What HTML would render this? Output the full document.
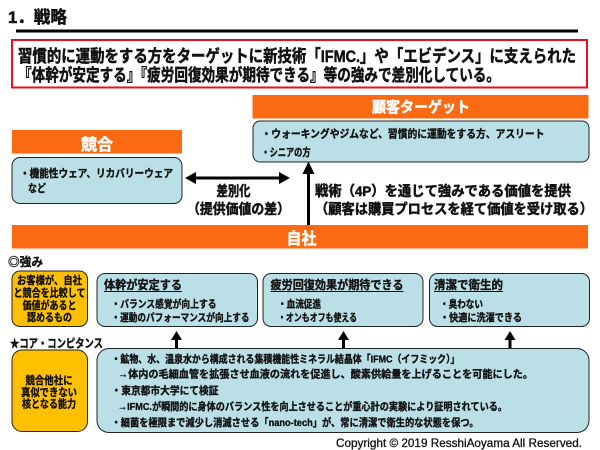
<!DOCTYPE html>
<html><head><meta charset="utf-8">
<style>
html,body{margin:0;padding:0;background:#fff;}
svg{display:block;}
text{font-family:"Liberation Sans","Noto Sans CJK JP",sans-serif;font-weight:bold;fill:#111;stroke:#111;stroke-width:0.35px;}
text.w{fill:#fff;stroke:#fff;stroke-width:0.5px;}
text.big{stroke-width:0.5px;}
text.n{font-weight:normal;stroke-width:0.3px;}
</style></head>
<body>
<svg width="600" height="450" viewBox="0 0 600 450" xmlns="http://www.w3.org/2000/svg">
<rect x="0" y="0" width="600" height="450" fill="#fff"/>

<!-- Title -->
<text class="big" x="8" y="23" font-size="17" textLength="59" lengthAdjust="spacingAndGlyphs">1．戦略</text>
<rect x="16" y="29.5" width="562" height="3" fill="#000"/>

<!-- Red summary box -->
<rect x="12" y="40" width="575" height="47.5" fill="#fff" stroke="#e3121b" stroke-width="2"/>
<text class="big" x="18" y="62" font-size="17" textLength="558" lengthAdjust="spacingAndGlyphs">習慣的に運動をする方をターゲットに新技術「IFMC.」や「エビデンス」に支えられた</text>
<text class="big" x="18" y="81" font-size="17" textLength="482" lengthAdjust="spacingAndGlyphs">『体幹が安定する』『疲労回復効果が期待できる』等の強みで差別化している。</text>

<!-- Customer target -->
<rect x="252.5" y="95" width="336" height="23.5" fill="#f96a12"/>
<text class="w" x="421" y="112" font-size="15" text-anchor="middle" textLength="98" lengthAdjust="spacingAndGlyphs">顧客ターゲット</text>
<rect x="253" y="121" width="336" height="41" rx="7" fill="#bbdfe6" stroke="#222" stroke-width="1"/>
<text x="261.5" y="137.5" font-size="11" textLength="283" lengthAdjust="spacingAndGlyphs">・ウォーキングやジムなど、習慣的に運動をする方、アスリート</text>
<text x="261.5" y="156" font-size="11" textLength="49" lengthAdjust="spacingAndGlyphs">・シニアの方</text>

<!-- Competitor -->
<rect x="12" y="130" width="170" height="23.5" fill="#f96a12"/>
<text class="w" x="97" y="150" font-size="16" text-anchor="middle" textLength="32" lengthAdjust="spacingAndGlyphs">競合</text>
<rect x="12" y="157.5" width="170" height="46" rx="8" fill="#bbdfe6" stroke="#222" stroke-width="1"/>
<text x="20" y="177" font-size="11" textLength="153" lengthAdjust="spacingAndGlyphs">・機能性ウェア、リカバリーウェア</text>
<text x="28" y="192" font-size="11" textLength="18" lengthAdjust="spacingAndGlyphs">など</text>

<!-- Double arrow -->
<polygon points="185,178 196,172 196,176.5 279,176.5 279,172 290,178 279,184 279,179.5 196,179.5 196,184" fill="#000"/>
<text class="big" x="233.5" y="196" font-size="14" text-anchor="middle" textLength="34" lengthAdjust="spacingAndGlyphs">差別化</text>
<text class="big" x="187" y="214" font-size="14" textLength="103" lengthAdjust="spacingAndGlyphs">（提供価値の差）</text>

<!-- Vertical arrow -->
<polygon points="308.5,161.5 314.5,174 310,174 310,225 307,225 307,174 302.5,174" fill="#000"/>
<text class="big" x="315" y="196" font-size="14" textLength="256" lengthAdjust="spacingAndGlyphs">戦術（4P）を通じて強みである価値を提供</text>
<text class="big" x="315" y="214" font-size="14" textLength="278" lengthAdjust="spacingAndGlyphs">（顧客は購買プロセスを経て価値を受け取る）</text>

<!-- Own company -->
<rect x="12" y="225" width="576" height="23.5" fill="#f96a12"/>
<text class="w" x="301.5" y="244" font-size="16" text-anchor="middle" textLength="30" lengthAdjust="spacingAndGlyphs">自社</text>

<!-- Strengths -->
<text x="8" y="266" font-size="12" textLength="35" lengthAdjust="spacingAndGlyphs">◎強み</text>
<rect x="12" y="271" width="75.5" height="55.5" rx="8" fill="#ffc000" stroke="#222" stroke-width="1"/>
<text x="49.5" y="284" font-size="11" text-anchor="middle" textLength="65" lengthAdjust="spacingAndGlyphs">お客様が、自社</text>
<text x="49.5" y="296.5" font-size="11" text-anchor="middle" textLength="72" lengthAdjust="spacingAndGlyphs">と競合を比較して</text>
<text x="49.5" y="309" font-size="11" text-anchor="middle" textLength="54" lengthAdjust="spacingAndGlyphs">価値があると</text>
<text x="49.5" y="321" font-size="11" text-anchor="middle" textLength="45" lengthAdjust="spacingAndGlyphs">認めるもの</text>

<rect x="97" y="273.5" width="160.5" height="53" rx="8" fill="#bbdfe6" stroke="#222" stroke-width="1"/>
<text x="104" y="289" font-size="12" textLength="78" lengthAdjust="spacingAndGlyphs">体幹が安定する</text>
<rect x="104" y="291" width="78" height="1" fill="#111"/>
<text x="111.5" y="307.5" font-size="10.5" textLength="105" lengthAdjust="spacingAndGlyphs">・バランス感覚が向上する</text>
<text x="111.5" y="321" font-size="10.5" textLength="138" lengthAdjust="spacingAndGlyphs">・運動のパフォーマンスが向上する</text>

<rect x="263" y="273.5" width="160" height="53" rx="8" fill="#bbdfe6" stroke="#222" stroke-width="1"/>
<text x="270.5" y="289" font-size="12" textLength="133" lengthAdjust="spacingAndGlyphs">疲労回復効果が期待できる</text>
<rect x="270.5" y="291" width="133" height="1" fill="#111"/>
<text x="278" y="307.5" font-size="10.5" textLength="43" lengthAdjust="spacingAndGlyphs">・血流促進</text>
<text x="278" y="321" font-size="10.5" textLength="79" lengthAdjust="spacingAndGlyphs">・オンもオフも使える</text>

<rect x="429.5" y="273.5" width="160" height="53" rx="8" fill="#bbdfe6" stroke="#222" stroke-width="1"/>
<text x="434" y="289" font-size="12" textLength="69" lengthAdjust="spacingAndGlyphs">清潔で衛生的</text>
<rect x="434" y="291" width="69" height="1" fill="#111"/>
<text x="440" y="307.5" font-size="10.5" textLength="43" lengthAdjust="spacingAndGlyphs">・臭わない</text>
<text x="440" y="321" font-size="10.5" textLength="82" lengthAdjust="spacingAndGlyphs">・快適に洗濯できる</text>

<!-- Up arrows -->
<polygon points="176.5,331 182,340 178,340 178,348.5 175,348.5 175,340 171,340" fill="#000"/>
<polygon points="343.5,331 349,340 345,340 345,348.5 342,348.5 342,340 338,340" fill="#000"/>
<polygon points="510,331 515.5,340 511.5,340 511.5,348.5 508.5,348.5 508.5,340 504.5,340" fill="#000"/>

<!-- Core competence -->
<text x="10" y="347.5" font-size="12" textLength="93" lengthAdjust="spacingAndGlyphs">★コア・コンピタンス</text>
<rect x="12" y="350" width="75.5" height="81.5" rx="10" fill="#ffc000" stroke="#222" stroke-width="1"/>
<text x="49" y="384" font-size="11" text-anchor="middle" textLength="47" lengthAdjust="spacingAndGlyphs">競合他社に</text>
<text x="49" y="396" font-size="11" text-anchor="middle" textLength="56" lengthAdjust="spacingAndGlyphs">真似できない</text>
<text x="49" y="407.5" font-size="11" text-anchor="middle" textLength="54" lengthAdjust="spacingAndGlyphs">核となる能力</text>

<rect x="97" y="348.5" width="492" height="84" rx="12" fill="#bbdfe6" stroke="#222" stroke-width="1"/>
<text x="111.5" y="362.5" font-size="10.5" textLength="348" lengthAdjust="spacingAndGlyphs">・鉱物、水、温泉水から構成される集積機能性ミネラル結晶体「IFMC（イフミック）」</text>
<text x="118" y="377.5" font-size="10.5" textLength="415" lengthAdjust="spacingAndGlyphs">→体内の毛細血管を拡張させ血液の流れを促進し、酸素供給量を上げることを可能にした。</text>
<text x="111.5" y="394" font-size="10.5" textLength="107" lengthAdjust="spacingAndGlyphs">・東京都市大学にて検証</text>
<text x="118" y="410" font-size="10.5" textLength="389" lengthAdjust="spacingAndGlyphs">→IFMC.が瞬間的に身体のバランス性を向上させることが重心計の実験により証明されている。</text>
<text x="111.5" y="426" font-size="10.5" textLength="367" lengthAdjust="spacingAndGlyphs">・細菌を極限まで減少し消滅させる「nano-tech」が、常に清潔で衛生的な状態を保つ。</text>

<!-- Copyright -->
<text class="n" x="336" y="447" font-size="12" textLength="246" lengthAdjust="spacingAndGlyphs">Copyright © 2019 ResshiAoyama All  Reserved.</text>
</svg>
</body></html>
